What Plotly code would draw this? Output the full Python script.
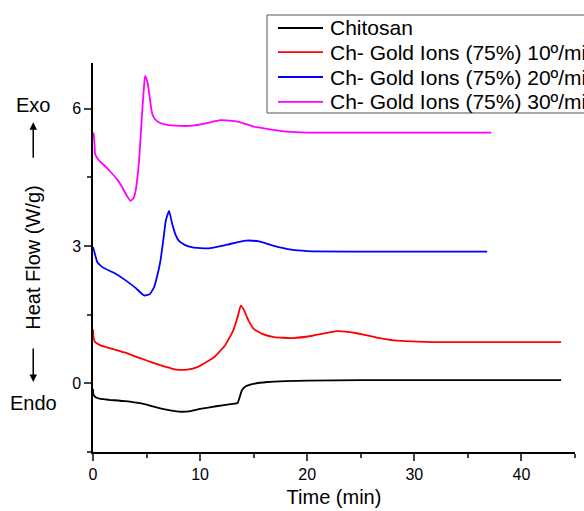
import plotly.graph_objects as go

# ---- data ----
chitosan_x = [0, 0.05, 0.3, 0.7, 1.5, 3, 4.5, 6, 7.2, 8.2, 9, 10, 11.5, 13, 13.5, 13.7, 13.9, 14.3, 15, 16.3, 18, 20, 25, 30, 35, 40, 43.7]
chitosan_y = [-0.12, -0.25, -0.31, -0.34, -0.36, -0.39, -0.44, -0.53, -0.59, -0.62, -0.61, -0.56, -0.50, -0.45, -0.43, -0.30, -0.15, -0.06, -0.01, 0.03, 0.05, 0.06, 0.07, 0.07, 0.07, 0.07, 0.07]

r10_x = [0, 0.05, 0.2, 0.7, 2, 3, 4.4, 5.5, 6.8, 7.8, 8.8, 9.8, 11.3, 12.3, 13.1, 13.5, 13.8, 14.1, 14.5, 15, 15.8, 16.9, 18.7, 20.5, 22.8, 24.5, 26.5, 28.1, 32.5, 38, 43.7]
r10_y = [1.18, 1.0, 0.90, 0.83, 0.74, 0.67, 0.55, 0.46, 0.36, 0.30, 0.30, 0.36, 0.57, 0.82, 1.16, 1.45, 1.70, 1.60, 1.38, 1.19, 1.08, 1.01, 0.99, 1.04, 1.14, 1.10, 1.00, 0.94, 0.90, 0.90, 0.90]

r20_x = [0, 0.1, 0.4, 0.87, 2, 3.05, 4.0, 4.77, 5.3, 5.7, 6.0, 6.3, 6.6, 6.8, 7.1, 7.4, 7.7, 8.0, 8.6, 9.3, 10.8, 12.5, 14.3, 15.5, 16.8, 18.5, 20, 25, 30, 36.8]
r20_y = [2.98, 2.90, 2.65, 2.54, 2.41, 2.25, 2.08, 1.92, 1.95, 2.10, 2.35, 2.68, 3.2, 3.56, 3.77, 3.48, 3.25, 3.12, 3.02, 2.97, 2.95, 3.03, 3.12, 3.10, 3.01, 2.92, 2.89, 2.88, 2.88, 2.88]

r30_x = [0, 0.05, 0.15, 0.19, 0.56, 1.2, 1.8, 2.3, 2.74, 3.1, 3.5, 3.8, 3.98, 4.15, 4.3, 4.45, 4.6, 4.75, 4.86, 5.0, 5.17, 5.35, 5.54, 5.8, 6.17, 6.9, 7.7, 9.3, 10.5, 11.9, 13.5, 15, 16.5, 18.1, 20, 25, 30, 37.2]
r30_y = [5.48, 5.45, 5.2, 5.01, 4.87, 4.73, 4.58, 4.44, 4.28, 4.12, 3.99, 4.05, 4.21, 4.5, 4.87, 5.4, 5.96, 6.45, 6.72, 6.65, 6.47, 6.15, 5.88, 5.77, 5.70, 5.65, 5.63, 5.63, 5.68, 5.75, 5.72, 5.61, 5.55, 5.50, 5.48, 5.48, 5.48, 5.48]

names = ["Chitosan",
         "Ch- Gold Ions (75%) 10º/min",
         "Ch- Gold Ions (75%) 20º/min",
         "Ch- Gold Ions (75%) 30º/min"]
colors = ["#000000", "#FF0000", "#0000FF", "#FF00FF"]
series = [(chitosan_x, chitosan_y), (r10_x, r10_y), (r20_x, r20_y), (r30_x, r30_y)]

FONT = "Arial, Liberation Sans, sans-serif"

fig = go.Figure()
for (xs, ys), n, c in zip(series, names, colors):
    fig.add_trace(go.Scatter(x=xs, y=ys, mode="lines", name=n,
                             line=dict(color=c, width=1.8, shape="spline", smoothing=0.4)))

fig.update_layout(
    width=584, height=511,
    margin=dict(l=93, r=9, t=63, b=59, autoexpand=False),
    paper_bgcolor="white", plot_bgcolor="white",
    font=dict(family=FONT, color="black", size=16),
    showlegend=False,
    xaxis=dict(range=[0, 45], dtick=10, tick0=0, ticks="outside", ticklen=7, tickwidth=1.5,
               showline=True, linecolor="black", linewidth=1.5, showgrid=False, zeroline=False,
               tickfont=dict(size=16), automargin=False,
               minor=dict(dtick=5, ticks="outside", ticklen=4, tickwidth=1.5),
               title=dict(text="Time (min)", font=dict(size=20), standoff=8)),
    yaxis=dict(range=[-1.5, 7], dtick=3, tick0=0, ticks="outside", ticklen=7, tickwidth=1.5,
               showline=True, linecolor="black", linewidth=1.5, showgrid=False, zeroline=False,
               tickfont=dict(size=16), automargin=False,
               minor=dict(dtick=1.5, ticks="outside", ticklen=4, tickwidth=1.5),
               title=dict(text="Heat Flow (W/g)", font=dict(size=20), standoff=26)),
)

# manual legend (box runs past the right edge as in the reference)
fig.add_shape(type="rect", xref="paper", yref="paper",
              x0=0.361, x1=1.06, y0=0.8715, y1=1.1234,
              line=dict(color="#555555", width=1), fillcolor="white", layer="above")
row_y = [1.090, 1.028, 0.964, 0.900]
for n, c, yy in zip(names, colors, row_y):
    fig.add_shape(type="line", xref="paper", yref="paper",
                  x0=0.3838, x1=0.4772, y0=yy, y1=yy,
                  line=dict(color=c, width=1.8), layer="above")
    fig.add_annotation(x=0.4876, y=yy, xref="paper", yref="paper", text=n,
                       xanchor="left", yanchor="middle", showarrow=False,
                       font=dict(size=21, family=FONT, color="black"))

# Exo / Endo labels and arrows
fig.add_annotation(x=-0.124, y=0.892, xref="paper", yref="paper", text="Exo",
                   xanchor="center", yanchor="middle",
                   showarrow=False, font=dict(size=20))
fig.add_annotation(x=-0.124, y=0.126, xref="paper", yref="paper", text="Endo",
                   xanchor="center", yanchor="middle",
                   showarrow=False, font=dict(size=20))
fig.add_annotation(x=-0.124, y=0.848, xref="paper", yref="paper", text="",
                   showarrow=True, ax=0, ay=37, arrowhead=2, arrowsize=1, arrowwidth=1.5,
                   arrowcolor="black")
fig.add_annotation(x=-0.124, y=0.180, xref="paper", yref="paper", text="",
                   showarrow=True, ax=0, ay=-35, arrowhead=2, arrowsize=1, arrowwidth=1.5,
                   arrowcolor="black")

fig.write_html("out.html",
               config={"displayModeBar": False},
               post_script="document.body.style.margin='0';document.body.style.padding='0';")
